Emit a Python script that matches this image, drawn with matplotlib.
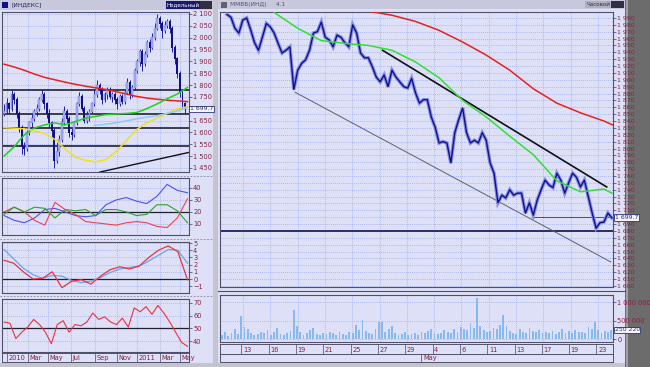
import numpy as np
import matplotlib
matplotlib.use("Agg")
import matplotlib.pyplot as plt
from matplotlib.patches import Rectangle

W, H = 650, 367
BG = '#dde0f6'
GRID = '#9aaaf0'
LBL = '#8a2040'
NAVY = '#10108c'

# ---- left panel: weekly index, Dec 2009 .. May 2011
week_close = [1690, 1720, 1700, 1760, 1740, 1680, 1620, 1540, 1530, 1600,
              1640, 1660, 1690, 1700, 1740, 1760, 1720, 1680, 1640, 1610,
              1480, 1520, 1570, 1640, 1690, 1660, 1600, 1590, 1640, 1720,
              1750, 1700, 1650, 1670, 1690, 1720, 1760, 1800, 1780, 1740,
              1760, 1780, 1750, 1760, 1740, 1720, 1750, 1730, 1770, 1810,
              1760, 1790, 1860, 1900, 1940, 1890, 1930, 1980, 1960, 2000,
              2040, 2080, 2060, 2030, 2050, 2070, 2040, 1960, 1910, 1850,
              1770, 1720, 1700]
week_high = [1720, 1745, 1730, 1780, 1770, 1750, 1690, 1630, 1560, 1610,
             1650, 1680, 1700, 1720, 1750, 1780, 1770, 1730, 1700, 1650,
             1620, 1560, 1590, 1660, 1710, 1700, 1670, 1620, 1650, 1730,
             1770, 1760, 1710, 1690, 1700, 1730, 1780, 1820, 1810, 1790,
             1770, 1790, 1790, 1770, 1770, 1750, 1760, 1760, 1780, 1830,
             1820, 1800, 1870, 1910, 1950, 1950, 1945, 1990, 1995, 2020,
             2060, 2100, 2090, 2070, 2070, 2080, 2080, 2050, 1970, 1920,
             1860, 1780, 1730]
week_low = [1670, 1680, 1680, 1690, 1720, 1660, 1600, 1510, 1505, 1520,
            1590, 1620, 1650, 1670, 1690, 1730, 1700, 1660, 1620, 1580,
            1450, 1470, 1500, 1560, 1630, 1640, 1580, 1570, 1580, 1630,
            1710, 1690, 1640, 1640, 1650, 1680, 1710, 1750, 1760, 1720,
            1730, 1740, 1740, 1730, 1720, 1700, 1710, 1720, 1720, 1760,
            1740, 1750, 1780, 1850, 1880, 1860, 1880, 1920, 1940, 1950,
            1990, 2030, 2040, 2000, 2020, 2040, 2020, 1940, 1890, 1830,
            1750, 1700, 1680]
week_open = [1680] + week_close[:-1]

ma_red = [1888, 1876, 1862, 1846, 1832, 1822, 1812, 1803, 1795, 1788,
          1781, 1772, 1762, 1752, 1745, 1740, 1736, 1733, 1730]
ma_green = [1500, 1540, 1590, 1619, 1632, 1640, 1632, 1646, 1660, 1668,
            1675, 1678, 1680, 1684, 1700, 1720, 1742, 1762, 1790]
ma_yellow = [1620, 1618, 1615, 1608, 1595, 1570, 1530, 1495, 1482, 1476,
             1485, 1520, 1565, 1612, 1640, 1660, 1680, 1700, 1708]
ma_ltblue = [1630, 1634, 1640, 1648, 1657, 1664, 1670, 1680, 1690, 1706]
left_levels = [1779, 1678, 1619, 1543]
left_trend_w = [38.2, 73.3]
left_trend_v = [1433, 1515]

dmi_blue = [17, 13, 11, 15, 22, 23, 20, 17, 16, 17, 26, 30, 32, 29, 27, 33, 43, 38, 36]
dmi_red = [20, 24, 20, 13, 9, 28, 22, 18, 12, 11, 10, 9, 11, 12, 11, 8, 7, 15, 31]
dmi_green = [18, 24, 20, 24, 23, 15, 22, 21, 22, 17, 22, 22, 20, 17, 18, 26, 26, 21, 11]
macd_red = [2.6, 2.2, 1.0, 0.0, 0.1, 1.0, -1.2, -0.3, -0.1, -0.7,
            0.4, 1.3, 1.7, 1.4, 1.8, 3.0, 4.0, 4.6, 3.8, -0.1]
macd_blue = [4.1, 2.8, 1.5, 0.6, 0.1, 0.5, 0.4, -0.2, -0.5, -0.3,
             0.2, 0.9, 1.4, 1.6, 1.8, 2.5, 3.3, 4.1, 4.0, 2.2]
rsi = [55, 54, 42, 47, 51, 57, 53, 47, 38, 53, 56, 47, 53, 52, 55, 62,
       57, 59, 55, 53, 58, 51, 66, 63, 67, 61, 68, 62, 55, 47, 39, 36]
left_dates = ['2010', 'Mar', 'May', 'Jul', 'Sep', 'Nov', '2011', 'Mar', 'May']
left_date_w = [1.2, 9.6, 17.5, 26.7, 36.3, 45, 53, 62.2, 70.1]

# ---- right panel: hourly index, Apr 11 .. May 23
hour_close = [1995, 1991, 1975, 1968, 1987, 1990, 1973, 1954, 1943, 1962,
              1982, 1977, 1968, 1953, 1939, 1943, 1948, 1886, 1914, 1924,
              1929, 1943, 1968, 1970, 1984, 1962, 1958, 1948, 1965, 1962,
              1954, 1948, 1980, 1968, 1939, 1932, 1932, 1919, 1904, 1897,
              1907, 1890, 1914, 1904, 1897, 1890, 1888, 1902, 1881, 1866,
              1871, 1871, 1846, 1831, 1808, 1810, 1808, 1779, 1823, 1842,
              1859, 1823, 1808, 1812, 1808, 1823, 1812, 1779, 1764, 1721,
              1732, 1728, 1740, 1732, 1735, 1735, 1706, 1721, 1703, 1725,
              1740, 1754, 1747, 1743, 1764, 1754, 1735, 1750, 1764, 1758,
              1744, 1754, 1730, 1706, 1684, 1692, 1693, 1706, 1699]
hour_green = [1998, 1975, 1957, 1953, 1950, 1943, 1926, 1903, 1870, 1846,
              1818, 1791, 1753, 1737, 1741, 1735]
hour_red = [2000, 1994, 1985, 1972, 1955, 1936, 1914, 1887, 1866, 1852, 1840, 1834]
upper_trend_i = [39.6, 96.7]
upper_trend_v = [1943, 1744]
lower_trend_i = [17.3, 97.7]
lower_trend_v = [1882, 1635]
support_level = 1680
last_level = 1699.7

volume_k = [120, 180, 90, 150, 260, 140, 620, 330, 280, 160,
            110, 130, 200, 150, 250, 120, 180, 290, 140, 100,
            150, 220, 780, 350, 180, 120, 160, 240, 300, 140,
            110, 170, 130, 200, 150, 120, 180, 140, 110, 200,
            160, 380, 250, 510, 230, 170, 140, 280, 460, 460,
            200, 260, 350, 160, 120, 140, 180, 110, 130, 150,
            120, 180, 150, 220, 280, 170, 130, 160, 240, 200,
            150, 260, 190, 330, 280, 240, 420, 300, 1100, 350,
            250, 180, 230, 310, 270, 380, 650, 360, 220, 160,
            140, 260, 190, 170, 300, 220, 180, 250, 160, 200,
            170, 230, 140, 190, 280, 160, 210, 150, 240, 180,
            200, 150, 330, 280, 460, 240, 170, 220, 190, 250]
day_labels = ['13', '16', '19', '21', '25', '27', '29', '4', '6', '11', '13', '17', '19', '23']


def fmt(v, skip=None):
    v = int(v)
    if skip is not None and v == skip:
        return ''  # hidden behind the last-price tag
    return f"{v // 1000} {v % 1000:03d}" if v >= 1000 else str(v)


fig = plt.figure(figsize=(W / 100, H / 100), dpi=100)
fig.patch.set_facecolor('#c4c4cc')

bg = fig.add_axes([0, 0, 1, 1])
bg.set_xlim(0, W)
bg.set_ylim(H, 0)
bg.axis('off')


def rect(l, t, r, b, color, ec='none', lw=0):
    bg.add_patch(Rectangle((l, t), r - l, b - t, facecolor=color, edgecolor=ec, lw=lw))


rect(0, 10, 213, 363, BG)
rect(218, 9, 625, 363, BG)
rect(625, 0, W, H, '#6c6c6c')
rect(626, 0, 628, H, '#a0a0a0')
# title bars
rect(0, 0, 213, 10, '#c8c8dc')
rect(2, 2, 8, 8, NAVY)
bg.text(11, 5, '[ИНДЕКС]', fontsize=4.2, color='#202060', va='center')
rect(166, 1, 200, 9, '#18186e')
bg.text(183, 5, 'Недельный', fontsize=4, color='white', va='center', ha='center')
rect(200, 1, 212, 9, '#303040')
rect(218, 0, 625, 9, '#c8c8dc')
rect(221, 2, 227, 8, '#606070')
bg.text(230, 4.5, 'ММВБ(ИНД)     4.1', fontsize=4.2, color='#505070', va='center')
rect(585, 1, 611, 8, '#b0b0c0')
bg.text(598, 4.5, 'Часовой', fontsize=4, color='#303040', va='center', ha='center')
rect(611, 1, 624, 8, '#303040')
for y in (176, 239, 296):
    bg.plot([0, 213], [y, y], color='#8080a0', lw=0.6, ls=(0, (2, 2)))
bg.plot([218, 625], [291, 291], color='#505060', lw=0.8)


def panel(l, t, r, b):
    ax = fig.add_axes([l / W, 1 - b / H, (r - l) / W, (b - t) / H])
    ax.set_facecolor(BG)
    for s in ax.spines.values():
        s.set_color('#50506a')
        s.set_linewidth(0.8)
    ax.yaxis.tick_right()
    ax.tick_params(axis='y', labelsize=4.8, labelcolor=LBL, color='#404050',
                   length=2, width=0.5, pad=1)
    ax.tick_params(axis='x', length=0, labelbottom=False)
    ax.grid(True, color=GRID, ls=(0, (1, 1.5)), lw=0.6)
    ax.set_axisbelow(True)
    return ax


def tag(ax, y, text):
    ax.text(1.004, y, text, transform=ax.get_yaxis_transform(), fontsize=4.4,
            va='center', ha='left', color='#303060', clip_on=False, zorder=10,
            bbox=dict(boxstyle='square,pad=0.1', fc='#f4f4ff', ec='#303080', lw=0.6))


# ---- left price
wk = np.arange(len(week_close))
o = np.array(week_open)
c = np.array(week_close)
up = c >= o
axl = panel(2, 12, 189, 172)
axl.set_xlim(-0.8, 73.6)
axl.set_ylim(1433, 2108)
axl.set_xticks(left_date_w)
axl.set_yticks(range(1450, 2101, 50))
axl.set_yticklabels([fmt(v, 1700) for v in range(1450, 2101, 50)])
for lv in left_levels:
    axl.axhline(lv, color='#202030', lw=1.2, zorder=2)
axl.plot(left_trend_w, left_trend_v, color='#101020', lw=1.0, zorder=2)
axl.vlines(wk, week_low, week_high, color='#2020a0', lw=0.7, zorder=3)
axl.bar(wk[up], (c - o)[up] + 4, bottom=o[up] - 2, width=0.75, color='#a8b0f0',
        edgecolor='#6070d8', lw=0.3, zorder=4)
axl.bar(wk[~up], (o - c)[~up] + 4, bottom=c[~up] - 2, width=0.75, color=NAVY, lw=0, zorder=4)
ma_w = np.linspace(0, 73, len(ma_red))
axl.plot(ma_w, ma_red, color='#e82020', lw=1.1, zorder=5)
axl.plot(ma_w, ma_green, color='#20d020', lw=1.1, zorder=5)
axl.plot(ma_w, ma_yellow, color='#f0e020', lw=1.1, zorder=5)
axl.plot(np.linspace(36, 73, len(ma_ltblue)), ma_ltblue, color='#90c8f8', lw=1.1, zorder=5)
tag(axl, last_level, '1 699.7')

# ---- left indicators
ind_w = np.linspace(0, 73, len(dmi_blue))
ax1 = panel(2, 178, 189, 235)
ax1.set_xlim(-0.8, 73.6)
ax1.set_ylim(0.8, 48.3)
ax1.set_xticks(left_date_w)
ax1.set_yticks([10, 20, 30, 40])
ax1.axhline(20, color='#202030', lw=0.9)
ax1.plot(ind_w, dmi_blue, color='#5050f0', lw=0.8)
ax1.plot(ind_w, dmi_red, color='#f04050', lw=0.8)
ax1.plot(ind_w, dmi_green, color='#30a030', lw=0.8)

ax2 = panel(2, 242, 189, 293)
ax2.set_xlim(-0.8, 73.6)
ax2.set_ylim(-1.94, 5.14)
ax2.set_xticks(left_date_w)
ax2.set_yticks(range(-1, 6))
ax2.axhline(0, color='#202030', lw=0.9)
macd_w = np.linspace(0, 73, len(macd_red))
ax2.plot(macd_w, macd_blue, color='#60a8f0', lw=0.9)
ax2.plot(macd_w, macd_red, color='#f03040', lw=0.9)

ax3 = panel(2, 299, 189, 352)
ax3.set_xlim(-0.8, 73.6)
ax3.set_ylim(31.5, 73)
ax3.set_xticks(left_date_w)
ax3.set_yticks([40, 50, 60, 70])
ax3.axhline(50, color='#202030', lw=0.9)
ax3.plot(np.linspace(0, 73, len(rsi)), rsi, color='#f03040', lw=0.8)

axd = fig.add_axes([2 / W, 1 - 362 / H, 187 / W, 9 / H])
axd.set_facecolor(BG)
axd.set_xlim(-0.8, 73.6)
axd.set_ylim(0, 1)
axd.set_xticks([])
axd.set_yticks([])
for s in axd.spines.values():
    s.set_color('#50506a')
    s.set_linewidth(0.7)
for w, lab in zip(left_date_w, left_dates):
    axd.axvline(w, color='#606080', lw=0.6)
    axd.text(w + 0.4, 0.45, lab, fontsize=4.8, color=LBL, va='center')

# ---- right price
hi = np.arange(len(hour_close))
axr = panel(220, 12, 613, 287)
axr.set_xlim(-1.8, 98.3)
axr.set_ylim(1598.4, 1998.7)
day_frac = 0.0585 + 0.0695 * np.arange(len(day_labels))
axr.set_xticks(-1.8 + day_frac * 100.1)
axr.set_yticks(range(1600, 1991, 10))
axr.set_yticklabels([fmt(v, 1700) for v in range(1600, 1991, 10)], fontsize=4.5)
axr.axhline(support_level, color='#202060', lw=1.3, zorder=2)
axr.plot([77.7, 98.3], [last_level, last_level], color='#505060', lw=0.7, zorder=2)
axr.plot(lower_trend_i, lower_trend_v, color='#606070', lw=0.7, zorder=2)
axr.plot(upper_trend_i, upper_trend_v, color='#101018', lw=1.2, zorder=2)
axr.plot(hi, hour_close, color='#8890e8', lw=2.6, zorder=3, solid_joinstyle='miter')
axr.plot(hi, hour_close, color=NAVY, lw=1.0, zorder=4)
axr.plot(np.append(np.arange(12, 97, 6), 98), hour_green, color='#30e030', lw=1.1, zorder=5)
axr.plot(np.append(np.arange(36, 97, 6), 98.3), hour_red, color='#e82020', lw=1.1, zorder=5)
tag(axr, last_level, '1 699.7')

# ---- volume
axv = panel(220, 295, 613, 342)
axv.set_xlim(-0.5, len(volume_k) - 0.5)
axv.set_ylim(-80000, 1190000)
axv.set_xticks(-0.5 + day_frac * len(volume_k))
axv.set_yticks([0, 500000, 1000000])
axv.set_yticklabels(['0', '500 000', '1 000 000'])
axv.bar(np.arange(len(volume_k)), np.array(volume_k) * 1000, width=0.55,
        color='#88b8f0', lw=0)
tag(axv, 250220, '250 220')

axrd = fig.add_axes([220 / W, 1 - 354 / H, 393 / W, 10 / H])
axrd2 = fig.add_axes([220 / W, 1 - 362 / H, 393 / W, 8 / H])
for a in (axrd, axrd2):
    a.set_facecolor(BG)
    a.set_xlim(0, 1)
    a.set_ylim(0, 1)
    a.set_xticks([])
    a.set_yticks([])
    for s in a.spines.values():
        s.set_color('#50506a')
        s.set_linewidth(0.7)
for f, lab in zip(day_frac, day_labels):
    axrd.axvline(f - 0.004, color='#606080', lw=0.6)
    axrd.text(f, 0.45, lab, fontsize=4.8, color=LBL, va='center')
axrd2.axvline(0.512, color='#606080', lw=0.6)
axrd2.text(0.517, 0.45, 'May', fontsize=4.8, color=LBL, va='center')

fig.savefig('out.png', dpi=100, facecolor=fig.get_facecolor())
